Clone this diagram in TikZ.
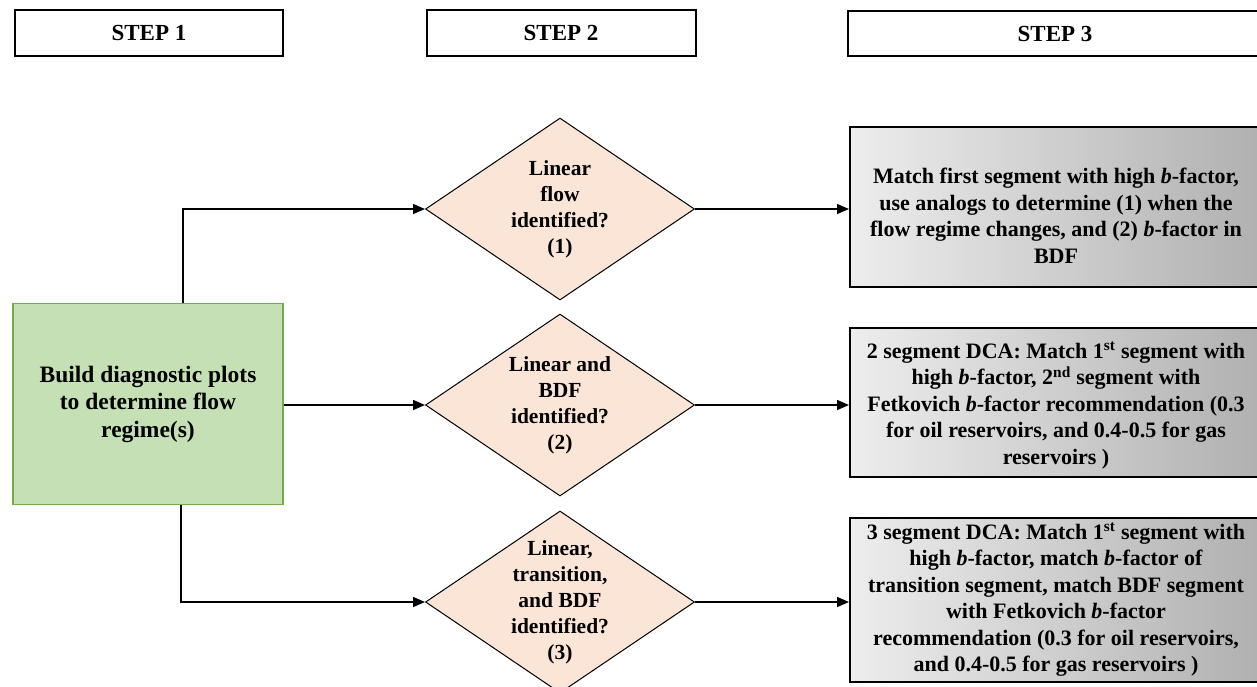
\documentclass[tikz,border=0pt]{standalone}
\usepackage{fontspec}
\setmainfont{Liberation Serif}
\usepackage{tikz}
\usetikzlibrary{shapes,arrows,positioning}
\usetikzlibrary{arrows.meta}
\usetikzlibrary{calc}

\definecolor{plotgreen}{HTML}{C5E0B4}
\definecolor{plotgreenline}{HTML}{70AD47}
\definecolor{peach}{HTML}{FBE5D6}
\newcommand{\flowfont}{\fontsize{23.5}{27.5}\selectfont\bfseries}

\begin{document}
\begin{tikzpicture}[
    x=1pt, y=-1pt,
    stepbox/.style={
       rectangle,
       draw=black,
       line width=2pt,
       minimum height=46pt,
       inner sep=0pt,
       font=\fontsize{23}{26}\selectfont\bfseries},
    plotbox/.style={
       rectangle,
       draw=plotgreenline,
       fill=plotgreen,
       line width=1.2pt,
       minimum width=270pt,
       minimum height=201pt,
       align=center,
       font=\flowfont},
    decision/.style={
       diamond,
       draw=black,
       fill=peach,
       line width=1pt,
       inner sep=0pt,
       minimum width=269pt,
       minimum height=182pt},
    decisiontext/.style={align=center, font=\fontsize{21.5}{26}\selectfont\bfseries},
    resultbox/.style={
       rectangle,
       draw=black,
       line width=2pt,
       left color=gray!14,
       right color=gray!62,
       minimum width=412pt},
    resulttext/.style={align=center, font=\fontsize{22}{26.5}\selectfont\bfseries},
    flowarrow/.style={line width=1.5pt, -{Triangle[length=12pt,width=10pt]}}
    ]
    \useasboundingbox (0,0) rectangle (1257,686);

    % step headers
    \node[stepbox, minimum width=268pt] (s1) at (149,32.5) {STEP 1};
    \node[stepbox, minimum width=269pt] (s2) at (561,32.5) {STEP 2};
    \node[stepbox, minimum width=414pt, minimum height=45pt] (s3) at (1055,33.5) {STEP 3};

    \node[plotbox] (plot) at (148,404) {Build diagnostic plots\\to determine flow\\regime(s)};

    \node[decision, label={[decisiontext]center:{Linear\\flow\\identified?\\(1)}}] (d1) at (560,209) {};
    \node[decision, label={[decisiontext]center:{Linear and\\BDF\\identified?\\(2)}}] (d2) at (560,405) {};
    \node[decision, label={[decisiontext]center:{Linear,\\transition,\\and BDF\\identified?\\(3)}}] (d3) at (560,602) {};

    \node[resultbox, minimum height=160pt, label={[resulttext,yshift=-9pt]center:{Match first segment with high \textit{b}-factor,\\use analogs to determine (1) when the\\flow regime changes, and (2) \textit{b}-factor in\\BDF}}] (r1) at (1056,207) {};
    \node[resultbox, minimum height=149pt, label={[resulttext,yshift=-3pt]center:{2 segment DCA: Match 1\textsuperscript{st} segment with\\high \textit{b}-factor, 2\textsuperscript{nd} segment with\\Fetkovich \textit{b}-factor recommendation (0.3\\for oil reservoirs, and 0.4-0.5 for gas\\reservoirs )}}] (r2) at (1056,402.5) {};
    \node[resultbox, minimum height=164pt, label={[resulttext]center:{3 segment DCA: Match 1\textsuperscript{st} segment with\\high \textit{b}-factor, match \textit{b}-factor of\\transition segment, match BDF segment\\with Fetkovich \textit{b}-factor\\recommendation (0.3 for oil reservoirs,\\and 0.4-0.5 for gas reservoirs )}}] (r3) at (1056,600) {};

    % from the plots box to the three checks
    \draw[flowarrow] ([xshift=35pt]plot.north) |- (d1.west);
    \draw[flowarrow] (plot.east |- d2) -- (d2.west);
    \draw[flowarrow] ([xshift=33pt]plot.south) |- (d3.west);

    \foreach \i/\j in {d1/r1, d2/r2, d3/r3}
       \draw[flowarrow] (\i.east) -- (\i.east -| \j.west);
\end{tikzpicture}
\end{document}
